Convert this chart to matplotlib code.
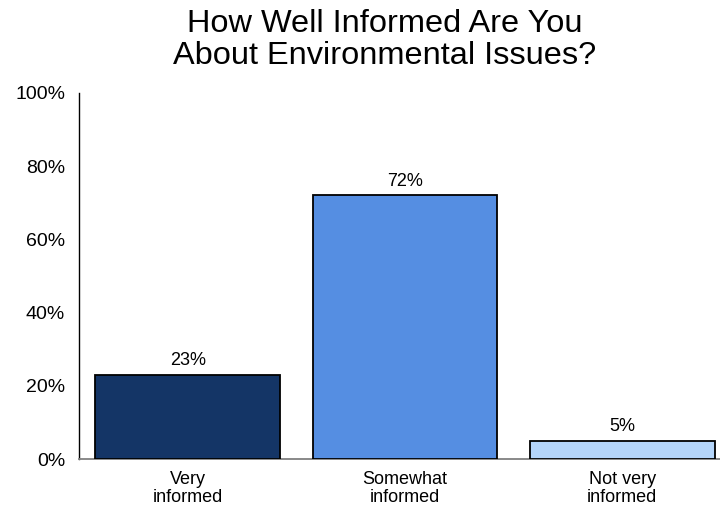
import matplotlib
matplotlib.use("Agg")
import matplotlib.pyplot as plt
from matplotlib.ticker import FuncFormatter

plt.rcParams['font.family'] = ['Liberation Sans', 'DejaVu Sans']

categories = ["Very\ninformed", "Somewhat\ninformed", "Not very\ninformed"]
values = [23, 72, 5]
bar_colors = ["#143566", "#558EE2", "#B4D5FA"]
yticks = [0, 20, 40, 60, 80, 100]
title = "How Well Informed Are You\nAbout Environmental Issues?"

fig = plt.figure(figsize=(7.2, 5.07), dpi=100)
ax = fig.add_axes([79 / 720, 48 / 507, 652 / 720, 366 / 507])

x = list(range(len(values)))
bars = ax.bar(x, values, width=0.85, color=bar_colors, edgecolor="black", linewidth=1.3, zorder=3)

for xi, v in zip(x, values):
    ax.annotate(f"{v}%", (xi, v), xytext=(0, 4), textcoords="offset points",
                ha="center", va="bottom", fontsize=13)

ax.set_xlim(-0.5, 2.5)
ax.set_ylim(0, 100)
ax.set_yticks(yticks)
ax.yaxis.set_major_formatter(FuncFormatter(lambda v, p: f"{v:.0f}%"))
ax.set_xticks(x)
ax.set_xticklabels(categories, linespacing=1.05)
ax.tick_params(axis="y", length=0, pad=10, labelsize=14)
ax.tick_params(axis="x", length=0, pad=9, labelsize=13)

for s in ("top", "right"):
    ax.spines[s].set_visible(False)
ax.spines["left"].set_color("black")
ax.spines["left"].set_linewidth(1.0)
ax.spines["bottom"].set_color("#808080")
ax.spines["bottom"].set_linewidth(1.3)

fig.text(385 / 720, 1 - 9 / 507, title, ha="center", va="top", fontsize=23.4, linespacing=1.07)

fig.savefig("out.png", dpi=100)
